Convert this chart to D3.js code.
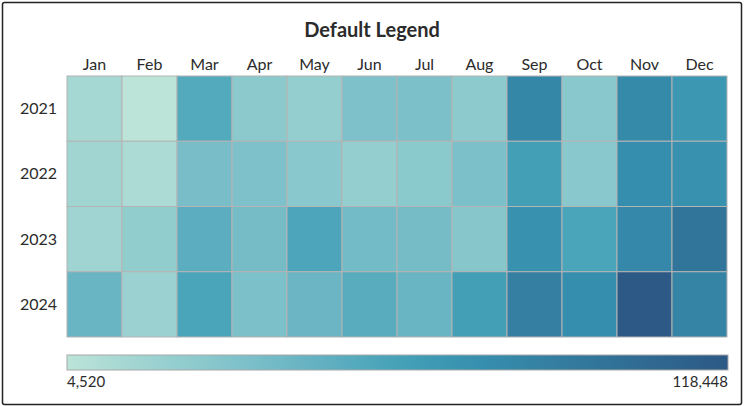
<!DOCTYPE html>
<html>
<head>
<meta charset="utf-8">
<script src="https://cdn.jsdelivr.net/npm/d3@7"></script>
<style>
  html, body { margin: 0; padding: 0; background: #fff; }
  svg text { font-family: Lato, "Open Sans", sans-serif; fill: #2b2b2b; }
</style>
</head>
<body>
<div id="chart"></div>
<script>
// data
var months = ['Jan', 'Feb', 'Mar', 'Apr', 'May', 'Jun', 'Jul', 'Aug', 'Sep', 'Oct', 'Nov', 'Dec'];
var years = ['2021', '2022', '2023', '2024'];

var v2021 = [14800, 4520, 54600, 27300, 22700, 34700, 35300, 27000, 82000, 28400, 79700, 69500];
var v2022 = [16500, 11400, 37600, 34100, 28400, 22700, 28000, 35300, 63800, 28400, 76300, 74000];
var v2023 = [17100, 23900, 51200, 38700, 58100, 39800, 38900, 29600, 73500, 59200, 80900, 95700];
var v2024 = [44400, 19300, 59200, 35300, 44100, 52400, 44600, 63800, 87700, 76300, 118448, 84300];

// tableau blue-teal
var blueTeal = ['#bce4d8', '#aedcd5', '#a1d5d2', '#95cecf', '#89c8cc', '#7ec1ca', '#72bac6',
    '#66b2c2', '#59acbe', '#4ba5ba', '#419eb6', '#3b96b2', '#358ead', '#3586a7', '#347ea1',
    '#32779b', '#316f96', '#2f6790', '#2d608a', '#2c5985'];

var rows = [v2021, v2022, v2023, v2024];
var cells = [];
rows.forEach(function (vals, i) {
    vals.forEach(function (v, j) {
        cells.push({ year: years[i], month: months[j], value: v });
    });
});

var width = 744, height = 406;
var margin = { top: 76, right: 16, bottom: 70, left: 67 };

var svg = d3.select('#chart').append('svg')
    .attr('width', width)
    .attr('height', height);

// frame
svg.append('rect')
    .attr('x', 2.5).attr('y', 2.5)
    .attr('width', width - 5).attr('height', height - 4)
    .attr('rx', 2)
    .attr('fill', 'none')
    .attr('stroke', '#222')
    .attr('stroke-width', 1.5);

svg.append('text')
    .attr('x', width / 2)
    .attr('y', 37)
    .attr('text-anchor', 'middle')
    .style('font-size', '20px')
    .style('font-weight', 'bold')
    .text('Default Legend');

var x = d3.scaleBand().domain(months).range([margin.left, margin.left + 660]);
var y = d3.scaleBand().domain(years).range([margin.top, margin.top + 261]);

var extent = d3.extent(cells, function (d) { return d.value; });
var color = d3.scaleLinear()
    .domain(blueTeal.map(function (c, i) { return extent[0] + i * (extent[1] - extent[0]) / (blueTeal.length - 1); }))
    .range(blueTeal)
    .interpolate(d3.interpolateRgb);

// cells
svg.append('g').selectAll('rect')
    .data(cells)
    .enter()
    .append('rect')
    .attr('x', function (d) { return x(d.month); })
    .attr('y', function (d) { return y(d.year); })
    .attr('width', x.bandwidth())
    .attr('height', y.bandwidth())
    .attr('fill', function (d) { return color(d.value); })
    .attr('stroke', '#b4b4b4')
    .attr('stroke-width', 1);

// month labels
svg.append('g').selectAll('text')
    .data(months)
    .enter()
    .append('text')
    .attr('x', function (d) { return x(d) + x.bandwidth() / 2; })
    .attr('y', margin.top - 6)
    .attr('text-anchor', 'middle')
    .style('font-size', '16px')
    .text(function (d) { return d; });

// year labels
svg.append('g').selectAll('text')
    .data(years)
    .enter()
    .append('text')
    .attr('x', margin.left - 10)
    .attr('y', function (d) { return y(d) + y.bandwidth() / 2; })
    .attr('dy', '0.35em')
    .attr('text-anchor', 'end')
    .style('font-size', '16px')
    .text(function (d) { return d; });

// legend
var defs = svg.append('defs');
var grad = defs.append('linearGradient').attr('id', 'legend-grad');
grad.selectAll('stop')
    .data(blueTeal)
    .enter()
    .append('stop')
    .attr('offset', function (d, i) { return (i / (blueTeal.length - 1) * 100) + '%'; })
    .attr('stop-color', function (d) { return d; });

var lx = d3.scaleLinear().domain(extent).range([margin.left, margin.left + 661]);
var legendY = 355;

svg.append('rect')
    .attr('x', lx(extent[0]))
    .attr('y', legendY)
    .attr('width', lx(extent[1]) - lx(extent[0]))
    .attr('height', 15)
    .attr('fill', 'url(#legend-grad)')
    .attr('stroke', '#a8a8a8')
    .attr('stroke-width', 1);

svg.append('g').selectAll('text')
    .data(extent)
    .enter()
    .append('text')
    .attr('x', function (d) { return lx(d); })
    .attr('y', 387)
    .attr('text-anchor', function (d, i) { return i === 0 ? 'start' : 'end'; })
    .style('font-size', '15px')
    .text(function (d) { return d3.format(',')(d); });
</script>
</body>
</html>
